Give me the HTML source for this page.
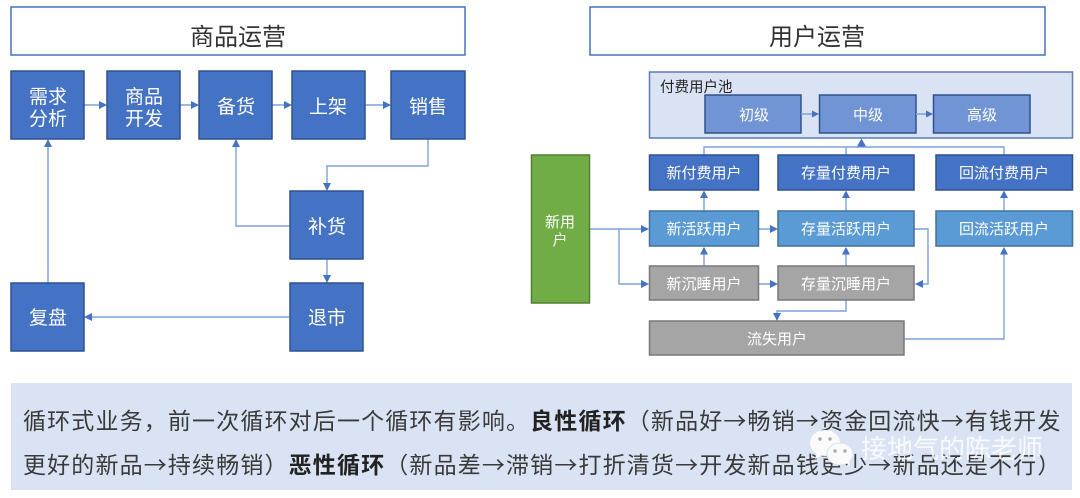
<!DOCTYPE html>
<html lang="zh"><head><meta charset="utf-8"><title>商品运营 用户运营</title>
<style>
html,body{margin:0;padding:0;background:#fff;width:1080px;height:498px;overflow:hidden}
svg{display:block}
text{font-family:"Liberation Sans","Noto Sans CJK SC",sans-serif}
.b{fill:#4472c4;stroke:#2f528f;stroke-width:1.5}
.m{fill:#5b9bd5;stroke:#41719c;stroke-width:1.5}
.g{fill:#a5a5a5;stroke:#787878;stroke-width:1.5}
.l{fill:#7094d4;stroke:#2f528f;stroke-width:1.5}
.t{fill:#fff;text-anchor:middle;font-size:19px}
.s{fill:#fff;text-anchor:middle;font-size:15px}
.c{fill:none;stroke:#7ea0de;stroke-width:1.4}
.a{fill:#4472c4}
.p{fill:#3a3a3a;font-size:23px;letter-spacing:1.15px;font-family:"Noto Sans CJK SC",sans-serif}
</style></head><body>
<svg width="1080" height="498" viewBox="0 0 1080 498" xmlns="http://www.w3.org/2000/svg">
<rect width="1080" height="498" fill="#fff"/>

<!-- titles -->
<rect x="11" y="7" width="454" height="48" fill="#fff" stroke="#4472c4" stroke-width="1.5"/>
<rect x="590" y="7" width="455" height="48" fill="#fff" stroke="#4472c4" stroke-width="1.5"/>
<text x="238" y="45" font-size="24" fill="#333" text-anchor="middle">商品运营</text>
<text x="817" y="45" font-size="24" fill="#333" text-anchor="middle">用户运营</text>

<!-- left connectors -->
<path class="c" d="M84 105H100M180 105H192M272 105H285M365 105H384M428 139V166H327V184M327 259V276M290 226H236V146M290 317H92M48 283V146"/>
<path class="a" d="M107 105l-8-4v8zM199 105l-8-4v8zM292 105l-8-4v8zM391 105l-8-4v8zM327 191l-4-8h8zM327 283l-4-8h8zM236 139l-4 8h8zM48 139l-4 8h8zM84 317l8-4v8z"/>

<!-- left nodes -->
<rect class="b" x="11" y="71" width="73" height="68"/>
<rect class="b" x="107" y="71" width="73" height="68"/>
<rect class="b" x="199" y="71" width="73" height="68"/>
<rect class="b" x="292" y="71" width="73" height="68"/>
<rect class="b" x="391" y="71" width="74" height="68"/>
<rect class="b" x="290" y="191" width="73" height="68"/>
<rect class="b" x="290" y="283" width="73" height="68"/>
<rect class="b" x="11" y="283" width="73" height="68"/>
<text class="t" x="48" y="103">需求</text><text class="t" x="48" y="125">分析</text>
<text class="t" x="144" y="103">商品</text><text class="t" x="144" y="125">开发</text>
<text class="t" x="236" y="113">备货</text>
<text class="t" x="328" y="113">上架</text>
<text class="t" x="428" y="113">销售</text>
<text class="t" x="327" y="233">补货</text>
<text class="t" x="327" y="324">退市</text>
<text class="t" x="48" y="324">复盘</text>

<!-- pool -->
<rect x="649.500" y="72" width="423" height="66" fill="#dae3f3" stroke="#5b7bb5" stroke-width="1.5"/>
<text x="660" y="92" font-size="14.500" fill="#222">付费用户池</text>
<rect class="l" x="705" y="95" width="96" height="38"/>
<rect class="l" x="819.500" y="95" width="96.500" height="38"/>
<rect class="l" x="933.500" y="95" width="96.500" height="38"/>
<text class="s" x="754" y="120">初级</text>
<text class="s" x="868" y="120">中级</text>
<text class="s" x="982" y="120">高级</text>
<path class="c" d="M801 114H812M916 114H927"/>
<path class="a" d="M819 114l-7-3.500v7zM933 114l-7-3.500v7z"/>

<!-- right connectors -->
<path class="c" d="M704 155V147H1004V155M846 155V147"/>
<path class="a" d="M861.500 138.500l-4.500 8h9z"/>
<path class="c" d="M704 211V197M846 211V197M1004 211V197M704 266V253M846 266V253M589 229H642M619 229V284H642M758 229H771M758 284H771M914 229H928V284H922M846 300V311H777V314M904 339H1004V253"/>
<path class="a" d="M704 190.500l-4 7.500h8zM846 190.500l-4 7.500h8zM1004 190.500l-4 7.500h8zM704 247l-4 7.500h8zM846 247l-4 7.500h8zM1004 247l-4 7.500h8zM649 229l-8-4v8zM649 284l-8-4v8zM778 229l-8-4v8zM778 284l-8-4v8zM915 284l8-4v8zM777 321l-4-8h8z"/>

<!-- right nodes -->
<rect fill="#70ad47" stroke="#507e32" stroke-width="1.5" x="531.500" y="155" width="58" height="148"/>
<text class="s" x="560" y="227">新用</text><text class="s" x="560" y="245">户</text>
<rect class="b" x="649.500" y="155" width="109" height="35"/>
<rect class="b" x="778" y="155" width="136" height="35"/>
<rect class="b" x="936" y="155" width="136.500" height="35"/>
<rect class="m" x="649.500" y="211" width="109" height="35"/>
<rect class="m" x="778" y="211" width="136" height="35"/>
<rect class="m" x="936" y="211" width="136.500" height="35"/>
<rect class="g" x="649.500" y="266" width="109" height="34"/>
<rect class="g" x="778" y="266" width="136" height="34"/>
<rect class="g" x="649.500" y="321" width="254.500" height="34"/>
<text class="s" x="704" y="178">新付费用户</text>
<text class="s" x="846" y="178">存量付费用户</text>
<text class="s" x="1004" y="178">回流付费用户</text>
<text class="s" x="704" y="234">新活跃用户</text>
<text class="s" x="846" y="234">存量活跃用户</text>
<text class="s" x="1004" y="234">回流活跃用户</text>
<text class="s" x="704" y="289">新沉睡用户</text>
<text class="s" x="846" y="289">存量沉睡用户</text>
<text class="s" x="777" y="344">流失用户</text>

<!-- bottom -->
<rect x="11" y="383" width="1061" height="107" fill="#d9e3f3"/>
<text class="p" x="23" y="429">循环式业务，前一次循环对后一个循环有影响。<tspan font-weight="700" fill="#222">良性循环</tspan>（新品好→畅销→资金回流快→有钱开发</text>
<text class="p" x="23" y="473">更好的新品→持续畅销）<tspan font-weight="700" fill="#222">恶性循环</tspan>（新品差→滞销→打折清货→开发新品钱更少→新品还是不行）</text>

<!-- watermark -->
<g>
<ellipse cx="825" cy="443" rx="15" ry="13" fill="#fafafa"/>
<path d="M817 452l-2 7 8-4z" fill="#fafafa"/>
<ellipse cx="840" cy="454" rx="13" ry="11" fill="#fafafa" stroke="#d9e3f3"/>
<path d="M846 462l4 5-1-7z" fill="#fafafa"/>
<circle cx="820" cy="439" r="1.700" fill="#aaa"/><circle cx="830" cy="439" r="1.700" fill="#aaa"/>
<circle cx="835" cy="451" r="1.700" fill="#aaa"/><circle cx="845" cy="451" r="1.700" fill="#aaa"/>
</g>
<text x="861" y="458" font-size="26" fill="#fff" fill-opacity=".82">接地气的陈老师</text>
</svg>
</body></html>
